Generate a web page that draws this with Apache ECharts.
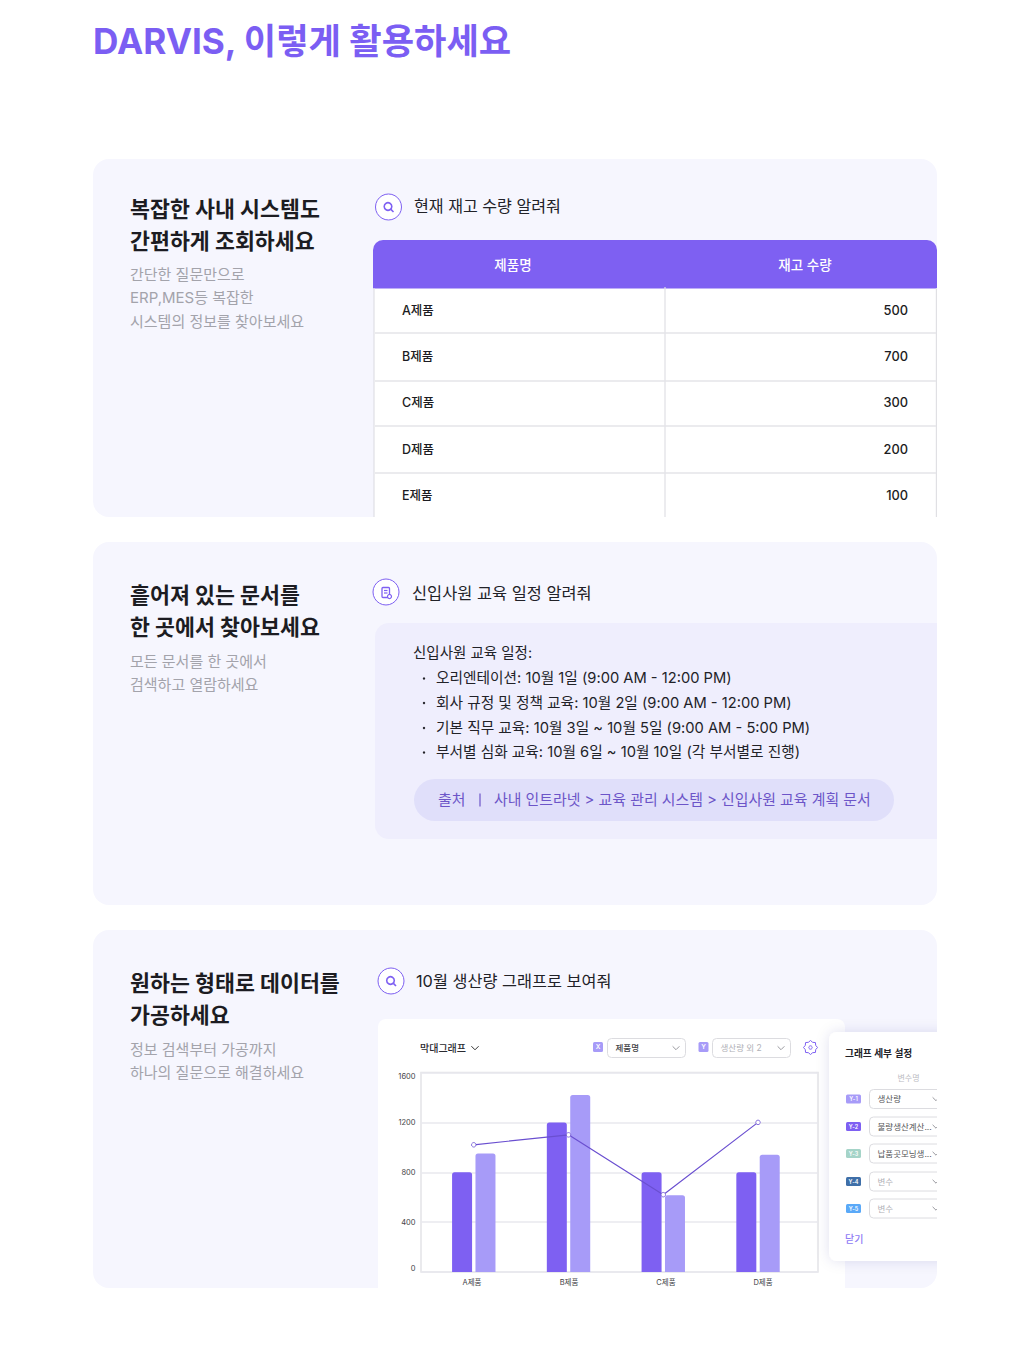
<!DOCTYPE html>
<html lang="ko">
<head>
<meta charset="utf-8">
<title>DARVIS</title>
<style>html,body{margin:0;padding:0;background:#fff}#c{width:1016px;height:1354px}</style>
<script src="https://cdn.jsdelivr.net/npm/echarts@6/dist/echarts.min.js"></script>
</head>
<body>
<div id="c"></div>
<script>
const categories = ['A제품','B제품','C제품','D제품'];
const barDark = [800,1200,800,800];
const barLight = [950,1420,615,940];
const lineValues = [1020,1100,620,1200];
const yTicks = [0,400,800,1200,1600];

const tableHead = ['제품명','재고 수량'];
const tableNames = ['A제품','B제품','C제품','D제품','E제품'];
const tableStock = [500,700,300,200,100];

const titleText = 'DARVIS, 이렇게 활용하세요';
const heads1 = ['복잡한 사내 시스템도','간편하게 조회하세요'];
const body1 = ['간단한 질문만으로','ERP,MES등 복잡한','시스템의 정보를 찾아보세요'];
const heads2 = ['흩어져 있는 문서를','한 곳에서 찾아보세요'];
const body2 = ['모든 문서를 한 곳에서','검색하고 열람하세요'];
const heads3 = ['원하는 형태로 데이터를','가공하세요'];
const body3 = ['정보 검색부터 가공까지','하나의 질문으로 해결하세요'];
const question1 = '현재 재고 수량 알려줘';
const question2 = '신입사원 교육 일정 알려줘';
const question3 = '10월 생산량 그래프로 보여줘';
const scheduleTitle = '신입사원 교육 일정:';
const scheduleItems = ['오리엔테이션: 10월 1일 (9:00 AM - 12:00 PM)','회사 규정 및 정책 교육: 10월 2일 (9:00 AM - 12:00 PM)','기본 직무 교육: 10월 3일 ~ 10월 5일 (9:00 AM - 5:00 PM)','부서별 심화 교육: 10월 6일 ~ 10월 10일 (각 부서별로 진행)'];
const sourceLabel = '출처';
const sourcePath = '사내 인트라넷 > 교육 관리 시스템 > 신입사원 교육 계획 문서';
const settingLabels = ['Y-1','Y-2','Y-3','Y-4','Y-5'];
const settingValues = ['생산량','불량생산계산...','납품곳모닝생...','변수','변수'];

const FONT = 'Inter, "Noto Sans CJK KR", sans-serif';
const PURPLE = '#7e60f2', LIGHT = '#a79bf8', CARD = '#f6f6fe';
const g = [];
function text(t,x,y,size,fill,weight,align,z,family){
  g.push({type:'text',z:z||1,silent:true,style:{text:String(t),x,y,fontSize:size,fontFamily:family||FONT,fontWeight:weight||400,fill,align:align||'left',verticalAlign:'middle'}});
}
function rect(x,y,w,h,r,fill,stroke,z,extra){
  g.push({type:'rect',z:z||-5,silent:true,shape:{x,y,width:w,height:h,r:r||0},style:Object.assign({fill:fill||'none',stroke:stroke||'none',lineWidth:1},extra||{})});
}
function line(x1,y1,x2,y2,stroke,w,z){
  g.push({type:'line',z:z||-1,silent:true,shape:{x1,y1,x2,y2},style:{stroke,lineWidth:w||1}});
}
function circle(cx,cy,r,fill,stroke,w,z){
  g.push({type:'circle',z:z||1,silent:true,shape:{cx,cy,r},style:{fill:fill||'none',stroke:stroke||'none',lineWidth:w||1}});
}
function chevron(cx,cy,s,stroke,z){
  g.push({type:'polyline',z:z||1,silent:true,shape:{points:[[cx-s,cy-s/2],[cx,cy+s/2],[cx+s,cy-s/2]]},style:{fill:'none',stroke,lineWidth:1}});
}
function magnifier(cx,cy){
  circle(cx,cy,13,'#fff',PURPLE,1);
  circle(cx-0.5,cy-0.5,3.8,'none',PURPLE,1.6);
  line(cx+2.4,cy+2.4,cx+5,cy+5,PURPLE,1.6,1);
}

/* page title */
text(titleText,93,40.5,35.2,'#7b5ef3',700);

/* cards */
rect(93,159,844,358,16,CARD);
rect(93,542,844,363,16,CARD);
rect(93,930,844,358,16,CARD);

/* left-hand copy */
function copy(heads,bodies,hy,by){
  heads.forEach((t,i)=>text(t,130,hy+i*32,21.7,'#1c1c22',700));
  bodies.forEach((t,i)=>text(t,130,by+i*23.3,15,'#a3a3ab',400));
}
copy(heads1,body1,209,274.5);
copy(heads2,body2,594.5,661);
copy(heads3,body3,983,1049);

/* question 1 and table */
magnifier(388.5,207);
text(question1,414,206,16.1,'#222228',400);
rect(374,288,562.5,229,0,'#fff');
g.push({type:'rect',z:-4,silent:true,shape:{x:373,y:240,width:564,height:48.5,r:[10,10,0,0]},style:{fill:PURPLE}});
text(tableHead[0],513,265,13.5,'#fff',500,'center');
text(tableHead[1],805,265,13.5,'#fff',500,'center');
line(374,288,374,517,'#e0e0e4',1.2);
line(936.4,288,936.4,517,'#e0e0e4',1.2);
line(665,287,665,517,'#e0e0e4',1.2);
[333,381,426,473].forEach(y=>line(375,y,936,y,'#e4e4e8',1.6));
const rowY = [310,356,402,449,495];
tableNames.forEach((t,i)=>{
  text(t,402,rowY[i],12.5,'#1c1c22',500);
  text(tableStock[i],908,rowY[i]+0.5,12.8,'#1c1c22',500,'right');
});

/* question 2 and schedule */
circle(386,592,13,'#fff',PURPLE,1);
rect(382,587.5,7.5,10,1,'none',PURPLE,1,{lineWidth:1.3});
line(384,590.5,387.5,590.5,PURPLE,1.2,1);
line(384,593,387.5,593,PURPLE,1.2,1);
circle(389.5,596.5,2,'#fff',PURPLE,1.2);
text(question2,412,592.5,16.4,'#222228',400);
g.push({type:'rect',z:-4,silent:true,shape:{x:375,y:623,width:562,height:216,r:[14,0,0,14]},style:{fill:'#efeefd'}});
text(scheduleTitle,413,652.5,14.5,'#222228',400);
const itemY = [678,702.5,727.5,752];
scheduleItems.forEach((t,i)=>{
  circle(424,itemY[i]+0.5,1.2,'#222228');
  text(t,436,itemY[i],14.7,'#222228',400);
});
rect(414,779,480,42,21,'#e0dffa',null,-3);
text(sourceLabel,438,800,14.9,'#6c55c8',400);
line(480,793.5,480,806.5,'#6c55c8',1.2,1);
text(sourcePath,494,800,14.9,'#6c55c8',400);

/* question 3 and chart panel */
magnifier(391,981);
text(question3,416,980.5,16.3,'#222228',400);
g.push({type:'rect',z:-4,silent:true,shape:{x:378,y:1019,width:467,height:269,r:[8,8,0,0]},style:{fill:'#fff'}});
text('막대그래프',420,1047.5,10,'#2a2a30',500);
chevron(475,1048,3.6,'#333');
function badge(x,y,w,h,fill,t,size,z){
  rect(x,y,w,h,1.5,fill,null,z||1);
  text(t,x+w/2,y+h/2,size,'#fff',600,'center',z?z+1:2);
}
function select(x,y,w,h,t,color,weight,z,chevronX){
  rect(x,y,w,h,4,'#fff','#dcdce0',z||1);
  text(t,x+8,y+h/2,8.5,color,weight||400,'left',z?z+1:2);
  chevron(chevronX,y+h/2,3.4,'#9a9aa0',z?z+1:2);
}
badge(593,1042,10,10,LIGHT,'X',6.5);
select(607.5,1038.5,78,19,'제품명','#444448',500,1,676);
badge(698.5,1042,10,10,LIGHT,'Y',6.5);
select(712.5,1038.5,78,19,'생산량 외 2','#b0b0b6',400,1,781);
/* gear */
const gear=[];
for(let i=0;i<16;i++){
  const a=i/16*Math.PI*2-Math.PI/2, r=i%2?5.6:7;
  gear.push([810.5+r*Math.cos(a),1047.5+r*Math.sin(a)]);
}
g.push({type:'polygon',z:1,silent:true,shape:{points:gear},style:{fill:'#fff',stroke:PURPLE,lineWidth:1}});
circle(810.5,1047.5,1.7,'none',PURPLE,1,2);

/* settings panel (overlaps the chart panel) */
rect(829,1032,130,229,8,'#fff',null,60,{shadowBlur:14,shadowColor:'rgba(60,60,120,0.12)'});
text('그래프 세부 설정',845,1053.5,9.7,'#222228',600,'left',61);
text('변수명',908.5,1078,8,'#bbbbc2',400,'center',61);
const settingColors = ['#a79bf8','#7e60f2','#a5d4c8','#3f6fa8','#5aa9f8'];
const settingY = [1099,1126.5,1153.5,1181.5,1208.5];
settingLabels.forEach((t,i)=>{
  badge(846,settingY[i]-4.5,15,9,settingColors[i],t,5.5,61);
  select(869.5,settingY[i]-9.5,80,19,settingValues[i],i<3?'#555558':'#b0b0b6',400,61,936);
});
text('닫기',845,1239,10,'#8f7bf5',500,'left',61);
/* page margin to the right of the cards */
rect(937,1000,79,354,0,'#fff',null,70);

const chart = echarts.init(document.getElementById('c'),null,{renderer:'svg',width:1016,height:1354});
chart.setOption({
  animation:false,
  backgroundColor:'#fff',
  graphic:{elements:g},
  grid:[
    {left:421,top:1072.5,width:397,height:199.5,show:true,backgroundColor:'#fff',borderColor:'#e4e4e8',borderWidth:1.5,z:0},
    {left:426.4,top:1072.5,width:379,height:199.5,z:1},
    {left:423.5,top:1072.5,width:388,height:199.5,z:1}
  ],
  xAxis:[
    {gridIndex:0,type:'category',data:categories,show:false},
    {gridIndex:1,type:'category',data:categories,show:false},
    {gridIndex:2,type:'category',data:categories,axisLine:{show:false},axisTick:{show:false},
     axisLabel:{fontSize:7.5,color:'#444448',margin:7,fontFamily:FONT}}
  ],
  yAxis:[
    {gridIndex:0,type:'value',min:yTicks[0],max:yTicks[yTicks.length-1],interval:yTicks[1],
     axisLine:{show:false},axisTick:{show:false},
     axisLabel:{fontSize:7.5,color:'#444448',margin:5.5,fontFamily:FONT,formatter:v=>String(v),verticalAlignMinLabel:'bottom',verticalAlignMaxLabel:'top'},
     splitLine:{show:true,lineStyle:{color:'#e8e8ee',width:1.5}}},
    {gridIndex:1,type:'value',min:yTicks[0],max:yTicks[yTicks.length-1],interval:yTicks[1],show:false},
    {gridIndex:2,type:'value',min:yTicks[0],max:yTicks[yTicks.length-1],interval:yTicks[1],show:false}
  ],
  series:[
    {type:'bar',xAxisIndex:1,yAxisIndex:1,data:barDark,barWidth:20,barGap:'17%',itemStyle:{color:PURPLE,borderRadius:[2.5,2.5,0,0]},z:3},
    {type:'bar',xAxisIndex:1,yAxisIndex:1,data:barLight,barWidth:20,itemStyle:{color:LIGHT,borderRadius:[2.5,2.5,0,0]},z:3},
    {type:'line',xAxisIndex:1,yAxisIndex:1,data:lineValues,symbol:'circle',symbolSize:4.5,showAllSymbol:true,
     lineStyle:{color:'#6a4fd0',width:1.2},itemStyle:{color:'#fff',borderColor:'#6a4fd0',borderWidth:0.8},z:4}
  ]
});
</script>
</body>
</html>
